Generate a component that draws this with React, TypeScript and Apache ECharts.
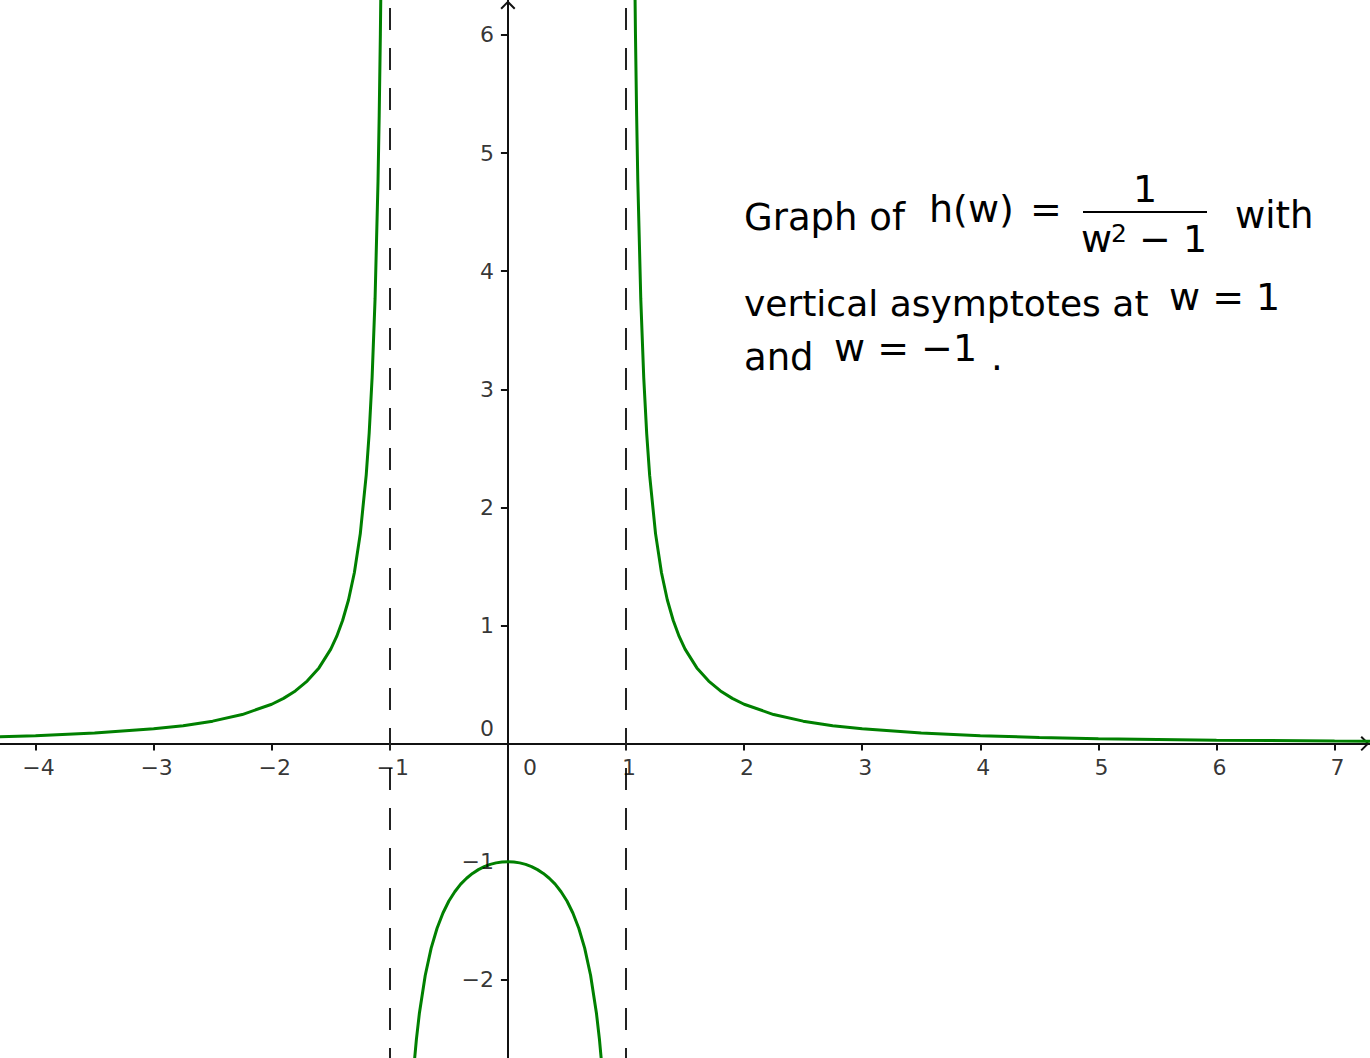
import React, { useEffect, useRef } from 'react';
import * as echarts from 'echarts';

// axis ticks and asymptotes
const xTicks = [-4, -3, -2, -1, 0, 1, 2, 3, 4, 5, 6, 7];
const yTicks = [-2, -1, 0, 1, 2, 3, 4, 5, 6];
const asymptotes = [-1, 1];

// branch w < -1
const leftW = [-4.4, -4, -3.5, -3, -2.75, -2.5, -2.25, -2, -1.9, -1.8, -1.7, -1.6, -1.5, -1.45, -1.4, -1.35, -1.3, -1.25, -1.2, -1.175, -1.15, -1.125, -1.1, -1.09, -1.08, -1.07, -1.06];
const leftH = [0.055, 0.067, 0.089, 0.125, 0.152, 0.19, 0.246, 0.333, 0.383, 0.446, 0.529, 0.641, 0.8, 0.907, 1.042, 1.216, 1.449, 1.778, 2.273, 2.627, 3.101, 3.765, 4.762, 5.316, 6.01, 6.901, 8.091];

// branch -1 < w < 1
const midW = [-0.82, -0.8, -0.775, -0.75, -0.7, -0.65, -0.6, -0.55, -0.5, -0.45, -0.4, -0.35, -0.3, -0.25, -0.2, -0.15, -0.1, -0.05, 0, 0.05, 0.1, 0.15, 0.2, 0.25, 0.3, 0.35, 0.4, 0.45, 0.5, 0.55, 0.6, 0.65, 0.7, 0.75, 0.775, 0.8, 0.82];
const midH = [-3.053, -2.778, -2.504, -2.286, -1.961, -1.732, -1.563, -1.434, -1.333, -1.254, -1.19, -1.14, -1.099, -1.067, -1.042, -1.023, -1.01, -1.003, -1, -1.003, -1.01, -1.023, -1.042, -1.067, -1.099, -1.14, -1.19, -1.254, -1.333, -1.434, -1.563, -1.732, -1.961, -2.286, -2.504, -2.778, -3.053];

// branch w > 1
const rightW = [1.06, 1.07, 1.08, 1.09, 1.1, 1.125, 1.15, 1.175, 1.2, 1.25, 1.3, 1.35, 1.4, 1.45, 1.5, 1.6, 1.7, 1.8, 1.9, 2, 2.25, 2.5, 2.75, 3, 3.5, 4, 4.5, 5, 6, 7, 7.4];
const rightH = [8.091, 6.901, 6.01, 5.316, 4.762, 3.765, 3.101, 2.627, 2.273, 1.778, 1.449, 1.216, 1.042, 0.907, 0.8, 0.641, 0.529, 0.446, 0.383, 0.333, 0.246, 0.19, 0.152, 0.125, 0.089, 0.067, 0.052, 0.042, 0.029, 0.021, 0.019];

const GREEN = '#008000';
const INK = '#111';
const FONT = '"DejaVu Sans"';
const ARROW = 'path://M7.5,0 L15,7.6 L13.6,9 L7.5,2.8 L1.4,9 L0,7.6 Z';

const pairs = (xs: number[], ys: number[]) => xs.map((x, i) => [x, ys[i]]);
const tickText = (v: number) => (v < 0 ? '\u2212' + Math.abs(v) : String(v));

function txt(text: string, x: number, y: number, size: number, align = 'left') {
  return {
    type: 'text',
    x,
    y,
    silent: true,
    style: {
      text,
      font: `${size}px ${FONT}`,
      fill: '#000',
      align,
      textAlign: align,
      verticalAlign: 'middle',
      textVerticalAlign: 'middle',
    },
  };
}

function App() {
  const chartRef = useRef<HTMLDivElement>(null);

  useEffect(() => {
    if (!chartRef.current) return undefined;
    const chart = echarts.init(chartRef.current, undefined, { renderer: 'svg' });

    const curve = (data: number[][], extra: object = {}) => ({
      type: 'line',
      data,
      showSymbol: false,
      symbol: 'none',
      clip: true,
      lineStyle: { color: GREEN, width: 3 },
      emphasis: { disabled: true },
      ...extra,
    });

    const tickLabel = { fontFamily: FONT, fontSize: 22, color: '#000' };

    // tick labels hung on invisible points of the axes
    const xLabels = {
      type: 'scatter',
      silent: true,
      symbolSize: 0,
      z: 5,
      label: { show: true, position: 'bottom', distance: 13, offset: [3, 0], ...tickLabel, formatter: (p: any) => tickText(p.value[0]) },
      data: xTicks.map((v) => (v === 0 ? { value: [v, 0], label: { offset: [22, 0] } } : [v, 0])),
    };
    const yLabels = {
      type: 'scatter',
      silent: true,
      symbolSize: 0,
      z: 5,
      label: { show: true, position: 'left', distance: 14, ...tickLabel, formatter: (p: any) => tickText(p.value[1]) },
      data: yTicks.map((v) => (v === 0 ? { value: [0, v], label: { offset: [0, -15] } } : [0, v])),
    };

    chart.setOption({
      animation: false,
      grid: { left: 0, right: 0, top: 0, bottom: 0, containLabel: false, outerBoundsMode: 'none' },
      xAxis: {
        type: 'value',
        min: -4.301,
        max: 7.3,
        axisLine: {
          onZero: true,
          lineStyle: { color: INK, width: 2 },
          symbol: ['none', ARROW],
          symbolSize: [15, 9],
          symbolOffset: [0, -5],
        },
        axisTick: { show: true, customValues: xTicks, length: 7, lineStyle: { color: INK, width: 2 } },
        axisLabel: { show: false },
        splitLine: { show: false },
      },
      yAxis: {
        type: 'value',
        min: -2.662,
        max: 6.296,
        axisLine: {
          onZero: true,
          lineStyle: { color: INK, width: 2 },
          symbol: ['none', ARROW],
          symbolSize: [15, 9],
          symbolOffset: [0, -5],
        },
        axisTick: { show: true, customValues: yTicks, length: 7, lineStyle: { color: INK, width: 2 } },
        axisLabel: { show: false },
        splitLine: { show: false },
      },
      series: [
        curve(pairs(leftW, leftH), {
          markLine: {
            silent: true,
            symbol: ['none', 'none'],
            label: { show: false },
            emphasis: { disabled: true },
            lineStyle: { color: '#222', width: 2, type: [22, 18], dashOffset: 12 },
            data: asymptotes.map((a) => ({ xAxis: a })),
          },
        }),
        curve(pairs(midW, midH)),
        curve(pairs(rightW, rightH)),
        xLabels,
        yLabels,
      ],
      graphic: [
        txt('Graph of', 744, 217, 37),
        txt('h(w)', 929, 209, 38),
        txt('=', 1030, 209, 38),
        txt('1', 1145, 189, 38, 'center'),
        { type: 'line', silent: true, shape: { x1: 1083, y1: 212, x2: 1207, y2: 212 }, style: { stroke: '#000', lineWidth: 2 } },
        txt('w', 1081, 239, 38),
        txt('2', 1111, 233, 25),
        txt('\u2212 1', 1139, 239, 38),
        txt('with', 1235, 215, 37),
        txt('vertical asymptotes at', 744, 303, 36),
        txt('w = 1', 1169, 297, 38),
        txt('and', 744, 357, 37),
        txt('w = \u22121', 834, 348, 38),
        txt('.', 991, 357, 37),
      ],
    });

    return () => {
      chart.dispose();
    };
  }, []);

  return (
    <div
      ref={chartRef}
      style={{ position: 'fixed', left: 0, top: 0, width: '1370px', height: '1058px', background: '#fff' }}
    />
  );
}

export default App;
